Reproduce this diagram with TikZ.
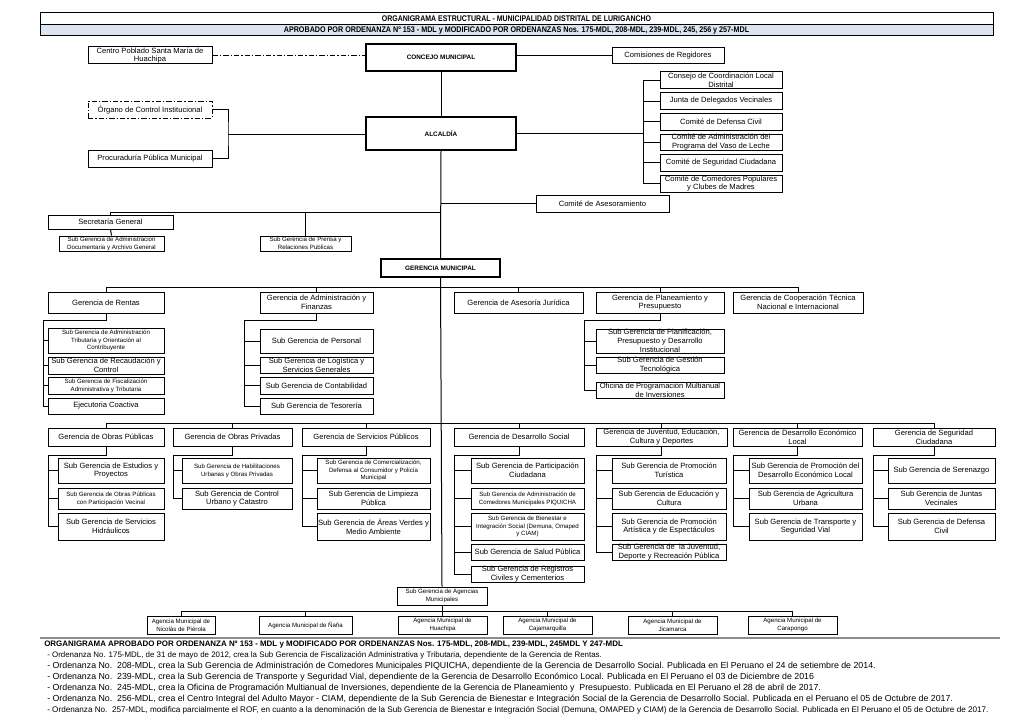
\documentclass[tikz,border=0pt]{standalone}
\usepackage{fontspec}
\setmainfont{Liberation Sans}
\usepackage{graphicx}
\definecolor{hdrblue}{RGB}{221,228,241}
\newcommand\bx[8][]{%
 \pgfmathsetmacro\bxw{(#5-#3)*0.75}%
 \pgfmathsetmacro\bxh{(#6-#4)*0.75}%
 \node[box,minimum width=\bxw pt,minimum height=\bxh pt,#1] (#2) at ({(#3+#5)/2},{(#4+#6)/2}) {};%
 \node[txt,#7] (#2-t) at (#2.center) {#8};}
\begin{document}
\begin{tikzpicture}[x=0.75pt,y=-0.75pt,
 box/.style={draw=black,line width=0.75pt,fill=white,inner sep=0pt,rectangle},
 mbox/.style={line width=1.2pt},
 txt/.style={align=center,inner sep=0pt,font=\fontsize{5.7}{6.7}\selectfont},
 sm/.style={font=\fontsize{4.6}{5.9}\selectfont},
 bd/.style={font=\fontsize{4.8}{6}\selectfont\bfseries},
 conn/.style={draw=black,line width=0.75pt},
 dashdot/.style={dash pattern=on 4pt off 1.5pt on 1pt off 1.5pt},
 foot/.style={anchor=west,inner sep=0pt,font=\fontsize{6.6}{8}\selectfont}]
\fill[white] (0,0) rectangle (1024,724);
\useasboundingbox (0,0) rectangle (1024,724);
% header
\bx{hdrA}{40}{13}{993}{24.5}{}{\resizebox{202pt}{4.3pt}{\bfseries ORGANIGRAMA ESTRUCTURAL - MUNICIPALIDAD DISTRITAL DE LURIGANCHO}}
\bx[fill=hdrblue]{hdrB}{40}{24.5}{993}{36}{}{\resizebox{349pt}{4.3pt}{\bfseries APROBADO POR ORDENANZA Nº 153 - MDL y MODIFICADO POR ORDENANZAS Nos. 175-MDL, 208-MDL, 239-MDL, 245, 256 y 257-MDL}}
% top
\bx{centro}{88}{47}{212}{64}{}{Centro Poblado Santa María de\\Huachipa}
\bx[mbox]{concejo}{366}{44}{516}{71}{bd}{CONCEJO MUNICIPAL}
\bx{comis}{612}{48}{724}{64}{}{Comisiones de Regidores}
\bx[dashdot]{organo}{88}{101}{212}{118}{}{Órgano de Control Institucional}
\bx{procu}{88}{150}{212}{167}{}{Procuraduría Pública Municipal}
\bx[mbox]{alcaldia}{366}{117}{516}{150}{bd}{ALCALDÍA}
\bx{ca}{660}{72}{782}{89}{}{Consejo de Coordinación Local\\Distrital}
\bx{cb}{660}{93}{782}{109}{}{Junta de Delegados Vecinales}
\bx{cc}{660}{113}{782}{130}{}{Comité de Defensa Civil}
\bx{cd}{660}{134}{782}{150}{}{Comité de Administración del\\Programa del Vaso de Leche}
\bx{ce}{660}{154}{782}{171}{}{Comité de Seguridad Ciudadana}
\bx{cf}{660}{175}{782}{192}{}{Comité de Comedores Populares\\y Clubes de Madres}
% middle
\bx{asesor}{536}{195}{669}{212}{}{Comité de Asesoramiento}
\bx{secre}{48}{215}{173}{229}{}{Secretaría General}
\bx{sgdoc}{59}{236}{164}{251}{sm}{Sub Gerencia de Administracion\\Documentaria y Archivo General}
\bx{prensa}{260}{236}{351}{251}{sm}{Sub Gerencia de Prensa y\\Relaciones Publicas}
\bx[mbox]{gm}{381}{259}{500}{277}{bd}{GERENCIA MUNICIPAL}
% row 1
\bx{rentas}{48}{292}{164}{313}{}{Gerencia de Rentas}
\bx{gaf}{260}{292}{373}{313}{}{Gerencia de Administración y\\Finanzas}
\bx{gaj}{454}{292}{583}{313}{}{Gerencia de Asesoría Jurídica}
\bx{gpp}{596}{292}{724}{313}{}{Gerencia de Planeamiento y\\Presupuesto}
\bx{gct}{733}{292}{863}{313}{}{Gerencia de Cooperación Técnica\\Nacional e Internacional}
\bx{ra}{48}{328}{164}{353}{sm}{Sub Gerencia de Administración\\Tributaria y Orientación al\\Contribuyente}
\bx{rb}{48}{357}{164}{374}{}{Sub Gerencia de Recaudación y\\Control}
\bx{rc}{48}{377}{164}{394}{sm}{Sub Gerencia de Fiscalización\\Administrativa y Tributaria}
\bx{rd}{48}{398}{164}{414}{}{Ejecutoria Coactiva}
\bx{fa}{260}{329}{373}{353}{}{Sub Gerencia de Personal}
\bx{fb}{260}{357}{373}{373}{}{Sub Gerencia de Logística y\\Servicios Generales}
\bx{fc}{260}{377}{373}{394}{}{Sub Gerencia de Contabilidad}
\bx{fd}{260}{398}{373}{414}{}{Sub Gerencia de Tesorería}
\bx{pa}{596}{329}{724}{353}{}{Sub Gerencia de Planificación,\\Presupuesto y Desarrollo\\Institucional}
\bx{pb}{596}{357}{724}{373}{}{Sub Gerencia de Gestión\\Tecnológica}
\bx{pc}{596}{382}{724}{398}{}{Oficina de Programación Multianual\\de Inversiones}
% row 2
\bx{gop}{48}{428}{164}{446}{}{Gerencia de Obras Públicas}
\bx{gopr}{173}{428}{292}{446}{}{Gerencia de Obras Privadas}
\bx{gsp}{302}{428}{430}{446}{}{Gerencia de Servicios Públicos}
\bx{gds}{454}{428}{584}{446}{}{Gerencia de Desarrollo Social}
\bx{gjec}{596}{428}{727}{446}{}{Gerencia de Juventud, Educación,\\Cultura y Deportes}
\bx{gdel}{733}{428}{862}{446}{}{Gerencia de Desarrollo Económico\\Local}
\bx{gsc}{873}{428}{995}{446}{}{Gerencia de Seguridad\\Ciudadana}
\bx{oa}{58}{458}{164}{483}{}{Sub Gerencia de Estudios y\\Proyectos}
\bx{ob}{58}{488}{164}{509}{sm}{Sub Gerencia de Obras Públicas\\con Participación Vecinal}
\bx{oc}{58}{513}{164}{540}{}{Sub Gerencia de Servicios\\Hidráulicos}
\bx{va}{182}{458}{292}{483}{sm}{Sub Gerencia de Habilitaciones\\Urbanas y Obras Privadas}
\bx{vb}{182}{488}{292}{509}{}{Sub Gerencia de Control\\Urbano y Catastro}
\bx{sa}{317}{458}{430}{483}{sm}{Sub Gerencia de Comercialización,\\Defensa al Consumidor y Policía\\Municipal}
\bx{sb}{317}{488}{430}{509}{}{Sub Gerencia de Limpieza\\Pública}
\bx{sc}{317}{513}{430}{540}{}{Sub Gerencia de Áreas Verdes y\\Medio Ambiente}
\bx{da}{471}{458}{584}{483}{}{Sub Gerencia de Participación\\Ciudadana}
\bx{db}{471}{488}{584}{509}{sm}{Sub Gerencia de Administración de\\Comedores Municipales PIQUICHA}
\bx{dc}{471}{513}{584}{540}{sm}{Sub Gerencia de Bienestar e\\Integración Social (Demuna, Omaped\\y CIAM)}
\bx{dd}{471}{544}{584}{560}{}{Sub Gerencia de Salud Pública}
\bx{de}{471}{566}{584}{582}{}{Sub Gerencia de Registros\\Civiles y Cementerios}
\bx{ja}{612}{458}{726}{483}{}{Sub Gerencia de Promoción\\Turística}
\bx{jb}{612}{488}{726}{509}{}{Sub Gerencia de Educación y\\Cultura}
\bx{jc}{612}{513}{726}{540}{}{Sub Gerencia de Promoción\\Artística y de Espectáculos}
\bx{jd}{612}{544}{726}{560}{}{Sub Gerencia de\ \ la Juventud,\\Deporte y Recreación Pública}
\bx{ea}{749}{458}{862}{483}{}{Sub Gerencia de Promoción del\\Desarrollo Económico Local}
\bx{eb}{749}{488}{862}{509}{}{Sub Gerencia de Agricultura\\Urbana}
\bx{ec}{749}{513}{862}{540}{}{Sub Gerencia de Transporte y\\Seguridad Vial}
\bx{ga}{888}{458}{995}{483}{}{Sub Gerencia de Serenazgo}
\bx{gb}{888}{488}{995}{509}{}{Sub Gerencia de Juntas\\Vecinales}
\bx{gc}{888}{513}{995}{540}{}{Sub Gerencia de Defensa\\Civil}
% agencias
\bx{sga}{397}{587}{487}{605}{sm}{Sub Gerencia de Agencias\\Municipales}
\bx{aa}{147}{616}{215}{634}{sm}{Agencia Municipal de\\Nicolás de Piérola}
\bx{ab}{259}{616}{352}{634}{sm}{Agencia Municipal de Ñaña}
\bx{ac}{398}{616}{487}{634}{sm}{Agencia Municipal de\\Huachipa}
\bx{ad}{503}{616}{592}{634}{sm}{Agencia Municipal de\\Cajamarquilla}
\bx{ae}{628}{616}{717}{634}{sm}{Agencia Municipal de\\Jicamarca}
\bx{af}{748}{616}{837}{634}{sm}{Agencia Municipal de\\Carapongo}
% connectors top
\draw[conn,dashdot] (centro.east) -- (centro.east -| concejo.west);
\draw[conn] (comis.west -| concejo.east) -- (comis.west);
\draw[conn] (concejo.south) -- (alcaldia.north);
\coordinate (bkL) at (228,134);
\draw[conn] (organo.east) -| (bkL) |- (procu.east);
\draw[conn] (bkL) -- (bkL -| alcaldia.west);
\coordinate (bkC) at (643,133);
\draw[conn] (bkC -| alcaldia.east) -- (bkC);
\draw[conn] (ca.west) -- (ca.west -| bkC) -- (cf.west -| bkC) -- (cf.west);
\foreach \c in {cb,cc,cd,ce} {\draw[conn] (\c.west) -- (\c.west -| bkC);}
% connectors middle
\draw[conn] (alcaldia.south) -- (gm.north);
\draw[conn] (asesor.west) -- (asesor.west -| alcaldia.south);
\coordinate (jS) at (441,212);
\draw[conn] (secre.north) |- (jS);
\draw[conn] (prensa.north) -- (prensa.north |- jS);
\draw[conn] (secre.south) -- (sgdoc.north);
\draw[conn] (gm.south) -- (sga.north);
% row 1 connectors
\coordinate (r1) at (441,287);
\draw[conn] (rentas.north) |- (gct.north |- r1) -- (gct.north);
\foreach \c in {gaf,gaj,gpp} {\draw[conn] (\c.north) -- (\c.north |- r1);}
\coordinate (bR) at (43,320);
\draw[conn] (rentas.south) |- (bR) |- (rd.west);
\foreach \c in {ra,rb,rc} {\draw[conn] (\c.west) -- (\c.west -| bR);}
\coordinate (bF) at (244,320);
\draw[conn] (gaf.south) |- (bF) |- (fd.west);
\foreach \c in {fa,fb,fc} {\draw[conn] (\c.west) -- (\c.west -| bF);}
\coordinate (bP) at (584,320);
\draw[conn] (gpp.south) |- (bP) |- (pc.west);
\foreach \c in {pa,pb} {\draw[conn] (\c.west) -- (\c.west -| bP);}
% row 2 connectors
\coordinate (r2) at (441,423);
\draw[conn] (gop.north) |- (gsc.north |- r2) -- (gsc.north);
\foreach \c in {gopr,gsp,gds,gjec,gdel} {\draw[conn] (\c.north) -- (\c.north |- r2);}
\coordinate (bO) at (48,455);
\draw[conn] (gop.south) |- (bO) |- (oc.west);
\foreach \c in {oa,ob} {\draw[conn] (\c.west) -- (\c.west -| bO);}
\coordinate (bV) at (173,455);
\draw[conn] (gopr.south) |- (bV) |- (vb.west);
\draw[conn] (va.west) -- (va.west -| bV);
\coordinate (bS) at (302,455);
\draw[conn] (gsp.south) |- (bS) |- (sc.west);
\foreach \c in {sa,sb} {\draw[conn] (\c.west) -- (\c.west -| bS);}
\coordinate (bD) at (454,455);
\draw[conn] (gds.south) |- (bD) |- (de.west);
\foreach \c in {da,db,dc,dd} {\draw[conn] (\c.west) -- (\c.west -| bD);}
\coordinate (bJ) at (596,455);
\draw[conn] (gjec.south) |- (bJ) |- (jd.west);
\foreach \c in {ja,jb,jc} {\draw[conn] (\c.west) -- (\c.west -| bJ);}
\coordinate (bE) at (733,455);
\draw[conn] (gdel.south) |- (bE) |- (ec.west);
\foreach \c in {ea,eb} {\draw[conn] (\c.west) -- (\c.west -| bE);}
\coordinate (bG) at (873,455);
\draw[conn] (gsc.south) |- (bG) |- (gc.west);
\foreach \c in {ga,gb} {\draw[conn] (\c.west) -- (\c.west -| bG);}
% agencias connectors
\coordinate (r3) at (441,611);
\draw[conn] (sga.south) -- (sga.south |- r3);
\draw[conn] (aa.north) |- (af.north |- r3) -- (af.north);
\foreach \c in {ab,ac,ad,ae} {\draw[conn] (\c.north) -- (\c.north |- r3);}
% footer
\draw[draw=black!45,line width=1.4pt] (40,638) -- (1000,638);
\node[foot] (ftitle) at (44,645) {\resizebox{434pt}{!}{\bfseries ORGANIGRAMA APROBADO POR ORDENANZA Nº 153 - MDL y MODIFICADO POR ORDENANZAS Nos. 175-MDL, 208-MDL, 239-MDL, 245MDL Y 247-MDL}};
\node[foot] (fa1) at (47,655.5) {\resizebox{416pt}{!}{- Ordenanza No. 175-MDL, de 31 de mayo de 2012, crea la Sub Gerencia de Fiscalización Administrativa y Tributaria, dependiente de la Gerencia de Rentas.}};
\node[foot] (fa2) at (47,666.5) {- Ordenanza No.\ \ 208-MDL, crea la Sub Gerencia de Administración de Comedores Municipales PIQUICHA, dependiente de la Gerencia de Desarrollo Social. Publicada en El Peruano el 24 de setiembre de 2014.};
\node[foot] (fa3) at (47,677.5) {- Ordenanza No.\ \ 239-MDL, crea la Sub Gerencia de Transporte y Seguridad Vial, dependiente de la Gerencia de Desarrollo Económico Local. Publicada en El Peruano el 03 de Diciembre de 2016};
\node[foot] (fa4) at (47,688.5) {- Ordenanza No.\ \ 245-MDL, crea la Oficina de Programación Multianual de Inversiones, dependiente de la Gerencia de Planeamiento y\ \ Presupuesto. Publicada en El Peruano el 28 de abril de 2017.};
\node[foot] (fa5) at (47,699.5) {- Ordenanza No.\ \ 256-MDL, crea el Centro Integral del Adulto Mayor - CIAM, dependiente de la Sub Gerencia de Bienestar e Integración Social de la Gerencia de Desarrollo Social. Publicada en el Peruano el 05 de Octubre de 2017.};
\node[foot] (fa6) at (47,710.5) {\resizebox{706pt}{!}{- Ordenanza No.\ \ 257-MDL, modifica parcialmente el ROF, en cuanto a la denominación de la Sub Gerencia de Bienestar e Integración Social (Demuna, OMAPED y CIAM) de la Gerencia de Desarrollo Social. Publicada en El Peruano el 05 de Octubre de 2017.}};
\end{tikzpicture}
\end{document}
